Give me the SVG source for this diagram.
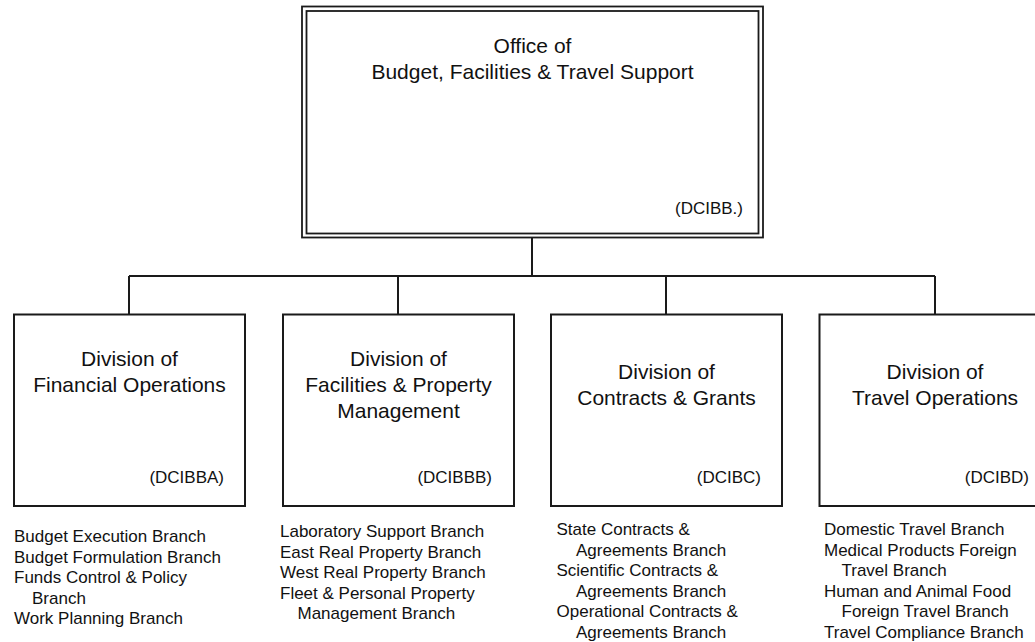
<svg xmlns="http://www.w3.org/2000/svg" width="1035" height="642" viewBox="0 0 1035 642">
<style>
.box{fill:#fff;stroke:#1a1a1a;stroke-width:2}
.dbl{fill:none;stroke:#1a1a1a;stroke-width:1.8}
.con{fill:none;stroke:#1a1a1a;stroke-width:2}
text{font-family:"Liberation Sans",Arial,sans-serif;fill:#111}
.t{font-size:21px;text-anchor:middle}
.c{font-size:17px;text-anchor:end}
.l{font-size:17px}
</style>
<rect width="1035" height="642" fill="#fff"/>
<g id="connectors">
<path class="con" d="M532 237.5V276M129 276H935M129 276V314.5M398 276V314.5M666 276V314.5M935 276V314.5"/>
</g>
<g id="office">
<rect x="302" y="6.5" width="461" height="231" fill="#fff"/>
<rect class="dbl" x="302" y="6.5" width="461" height="231"/>
<rect class="dbl" x="306.5" y="11" width="452" height="222.5"/>
<text class="t" x="532.5" y="52.5">Office of</text>
<text class="t" x="532.5" y="78.5">Budget, Facilities &amp; Travel Support</text>
<text class="c" x="743" y="214">(DCIBB.)</text>
</g>
<g id="dcibba">
<rect class="box" x="14" y="314.5" width="231" height="191.5"/>
<text class="t" x="129.5" y="366">Division of</text>
<text class="t" x="129.5" y="392">Financial Operations</text>
<text class="c" x="224" y="483">(DCIBBA)</text>
<text class="l" x="14" y="542">Budget Execution Branch</text>
<text class="l" x="14" y="562.5">Budget Formulation Branch</text>
<text class="l" x="14" y="583">Funds Control &amp; Policy</text>
<text class="l" x="32" y="603.5">Branch</text>
<text class="l" x="14" y="624">Work Planning Branch</text>
</g>
<g id="dcibbb">
<rect class="box" x="283" y="314.5" width="231" height="191.5"/>
<text class="t" x="398.5" y="366">Division of</text>
<text class="t" x="398.5" y="392">Facilities &amp; Property</text>
<text class="t" x="398.5" y="418">Management</text>
<text class="c" x="492" y="483">(DCIBBB)</text>
<text class="l" x="280" y="537">Laboratory Support Branch</text>
<text class="l" x="280" y="557.5">East Real Property Branch</text>
<text class="l" x="280" y="578">West Real Property Branch</text>
<text class="l" x="280" y="598.5">Fleet &amp; Personal Property</text>
<text class="l" x="297.5" y="619">Management Branch</text>
</g>
<g id="dcibc">
<rect class="box" x="551" y="314.5" width="231" height="191.5"/>
<text class="t" x="666.5" y="379">Division of</text>
<text class="t" x="666.5" y="405">Contracts &amp; Grants</text>
<text class="c" x="761" y="483">(DCIBC)</text>
<text class="l" x="556.5" y="535">State Contracts &amp;</text>
<text class="l" x="576" y="555.5">Agreements Branch</text>
<text class="l" x="556.5" y="576">Scientific Contracts &amp;</text>
<text class="l" x="576" y="596.5">Agreements Branch</text>
<text class="l" x="556.5" y="617">Operational Contracts &amp;</text>
<text class="l" x="576" y="637.5">Agreements Branch</text>
</g>
<g id="dcibd">
<rect class="box" x="819.5" y="314.5" width="231" height="191.5"/>
<text class="t" x="935" y="379">Division of</text>
<text class="t" x="935" y="405">Travel Operations</text>
<text class="c" x="1029" y="483">(DCIBD)</text>
<text class="l" x="824" y="535">Domestic Travel Branch</text>
<text class="l" x="824" y="555.5">Medical Products Foreign</text>
<text class="l" x="841.5" y="576">Travel Branch</text>
<text class="l" x="824" y="596.5">Human and Animal Food</text>
<text class="l" x="841.5" y="617">Foreign Travel Branch</text>
<text class="l" x="824" y="637.5">Travel Compliance Branch</text>
</g>
</svg>
